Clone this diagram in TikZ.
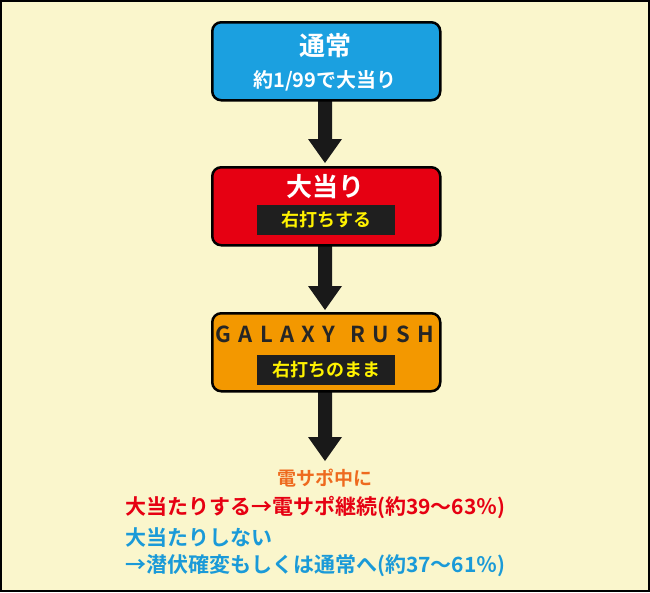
\documentclass[tikz,border=0pt]{standalone}
\usepackage{fontspec}
\newfontfamily\cjk{Noto Sans CJK JP Bold}
\begin{document}
\begin{tikzpicture}[x=1pt,y=-1pt,
 box/.style={draw=black,line width=2.5pt,rounded corners=9pt,minimum width=228pt,minimum height=78pt,anchor=north west},
 tag/.style={fill=black!88,text=yellow,font=\cjk\fontsize{18}{18}\selectfont,minimum width=138pt,minimum height=30pt,inner sep=0pt},
 bt/.style={font=\cjk\fontsize{21}{22}\selectfont,anchor=west,inner sep=0pt}]
\definecolor{bg}{HTML}{FAF6CC}
\definecolor{cblue}{HTML}{1BA0E0}
\definecolor{cred}{HTML}{E60012}
\definecolor{corange}{HTML}{F39800}
\definecolor{dorange}{HTML}{EE6A1E}
\definecolor{tblue}{HTML}{1A9AD8}
\fill[bg,draw=black,line width=1.5pt] (1,1) rectangle (649,591);
\useasboundingbox (0,0) rectangle (650,592);
\def\arr#1#2{\fill[black!90] (318,#1) -- (332,#1) -- (332,#2-24) -- (342,#2-24) -- (325,#2) -- (308,#2-24) -- (318,#2-24) -- cycle;}
\arr{101}{163}
\arr{246}{310}
\arr{391}{461}
\node[box,fill=cblue] (n1) at (211,21) {};
\node[text=white,font=\cjk\fontsize{26}{26}\selectfont] (t1) at (325,46) {通常};
\node[text=white,font=\cjk\fontsize{20}{20}\selectfont] (s1) at (325,81) {約1/99で大当り};
\node[box,fill=cred] (n2) at (211,166) {};
\node[text=white,font=\cjk\fontsize{26}{26}\selectfont] (t2) at (325,187) {大当り};
\node[tag] (s2) at (326,220) {右打ちする};
\node[box,fill=corange] (n3) at (211,312) {};
\node[text=black!85,font=\cjk\fontsize{22}{22}\selectfont] (t3) at (325,334) {G\,\,A\,\,L\,\,A\,\,X\,\,Y\ \ \ R\,\,U\,\,S\,\,H};
\node[tag] (s3) at (326,370) {右打ちのまま};
\node[text=dorange,font=\cjk\fontsize{19}{20}\selectfont] (b0) at (325,478) {電サポ中に};
\node[bt,text=cred] (b1) at (125,508) {大当たりする→電サポ継続(約39〜63％)};
\node[bt,text=tblue] (b2) at (125,537) {大当たりしない};
\node[bt,text=tblue] (b3) at (125,566) {→潜伏確変もしくは通常へ(約37〜61％)};
\end{tikzpicture}
\end{document}
